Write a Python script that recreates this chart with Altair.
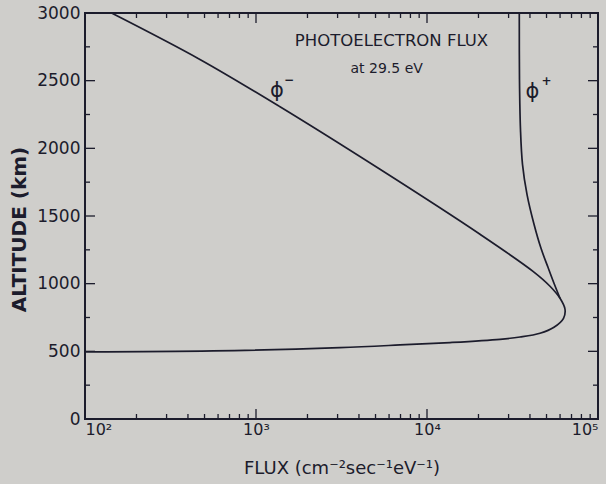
import altair as alt
import pandas as pd

# ---- data ----
# phi-minus curve (top-left, down to the nose, then back along the 500 km branch)
minus_flux = [143, 470, 1382, 5311, 20410, 41690, 52400, 59960, 64130,
              62850, 55290, 45800, 35000, 26720, 13630, 6950, 3100, 562, 100]
minus_alt = [3000, 2657, 2307, 1845, 1365, 1091, 981, 892, 811,
             744, 678, 634, 606, 589, 565, 547, 528, 503, 496]
# phi-plus curve (from the top right down to where it joins phi-minus)
plus_flux = [34650, 34740, 35210, 36180, 38440, 42250, 46420, 51000, 55290, 59960]
plus_alt = [3000, 2510, 2140, 1882, 1660, 1439, 1261, 1121, 1003, 892]

x_major = [100, 1000, 10000, 100000]
x_labels = ["10²", "10³", "10⁴", "10⁵"]
x_minor = [200, 300, 400, 500, 600, 700, 800, 900,
           2000, 3000, 4000, 5000, 6000, 7000, 8000, 9000,
           20000, 30000, 40000, 50000, 60000, 70000, 80000, 90000]
y_major = [0, 500, 1000, 1500, 2000, 2500, 3000]
y_minor = [250, 750, 1250, 1750, 2250, 2750]

W, H = 513, 406
INK = "#1c1c2c"
BG = "#cfcecb"

rows = []
for i, (f, a) in enumerate(zip(minus_flux, minus_alt)):
    rows.append({"flux": f, "alt": a, "series": "minus", "idx": i})
for i, (f, a) in enumerate(zip(plus_flux, plus_alt)):
    rows.append({"flux": f, "alt": a, "series": "plus", "idx": i})
curves = pd.DataFrame(rows)

xscale = alt.Scale(type="log", domain=[100, 100000], nice=False)
yscale = alt.Scale(domain=[0, 3000], nice=False, zero=False)

label_expr = " : ".join(
    f"datum.value == {v} ? '{l}'" for v, l in zip(x_major[:-1], x_labels[:-1])
) + f" : '{x_labels[-1]}'"

xaxis = alt.Axis(values=x_major, labelExpr=label_expr, grid=False,
                 ticks=False, tickSize=0, domain=False,
                 labelFont="DejaVu Sans", labelFontSize=16,
                 labelColor=INK, labelPadding=2,
                 title="FLUX (cm⁻²sec⁻¹eV⁻¹)", titleFont="DejaVu Sans",
                 titleFontSize=18, titleFontWeight="normal",
                 titleColor=INK, titleX=W / 2, titleY=49,
                 titleAlign="center", titleBaseline="middle")
yaxis = alt.Axis(values=y_major, format="d", grid=False, ticks=False, tickSize=0,
                 domain=False, labelFont="DejaVu Sans", labelFontSize=17,
                 labelColor=INK, labelPadding=5,
                 title="ALTITUDE (km)", titleFont="DejaVu Sans",
                 titleFontSize=20, titleFontWeight="bold",
                 titleColor=INK, titleAngle=270, titleX=-66,
                 titleY=216, titleAlign="center",
                 titleBaseline="middle")


def X(field):
    return alt.X(field, scale=xscale, axis=xaxis)


def Y(field):
    return alt.Y(field, scale=yscale, axis=yaxis)


lines = alt.Chart(curves).mark_line(
    color=INK, strokeWidth=1.7, interpolate="catmull-rom"
).encode(
    x=X("flux:Q"),
    y=Y("alt:Q"),
    detail="series:N",
    order="idx:Q",
)


def xticks(vals, length):
    df = pd.DataFrame({"v": vals})
    base = alt.Chart(df).mark_rule(color=INK, strokeWidth=1.3)
    bottom = base.encode(x=X("v:Q"), y=alt.value(H), y2=alt.value(H - length))
    top = base.encode(x=X("v:Q"), y=alt.value(0), y2=alt.value(length))
    return [bottom, top]


def yticks(vals, length):
    df = pd.DataFrame({"v": vals})
    base = alt.Chart(df).mark_rule(color=INK, strokeWidth=1.3)
    left = base.encode(y=Y("v:Q"), x=alt.value(0), x2=alt.value(length))
    right = base.encode(y=Y("v:Q"), x=alt.value(W), x2=alt.value(W - length))
    return [left, right]


# annotations
ann_text = ["PHOTOELECTRON FLUX", "at 29.5 eV"]
ann_flux = [6200, 5810]
ann_alt = [2792, 2583]
ann_size = [16.5, 14]
ann = alt.Chart(pd.DataFrame({"t": ann_text, "f": ann_flux, "a": ann_alt, "s": ann_size})).mark_text(
    font="DejaVu Sans", color=INK, align="center", baseline="middle"
).encode(
    x=X("f:Q"),
    y=Y("a:Q"),
    text="t:N",
    size=alt.Size("s:Q", scale=None, legend=None),
)

phi_text = ["ϕ", "ϕ"]
phi_flux = [1327, 41400]
phi_alt = [2425, 2414]
phi = alt.Chart(pd.DataFrame({"t": phi_text, "f": phi_flux, "a": phi_alt})).mark_text(
    font="DejaVu Sans", fontSize=21, color=INK, align="center", baseline="middle"
).encode(
    x=X("f:Q"),
    y=Y("a:Q"),
    text="t:N",
)

sup_text = ["−", "+"]
sup_flux = [1560, 50000]
sup_alt = [2505, 2500]
sup = alt.Chart(pd.DataFrame({"t": sup_text, "f": sup_flux, "a": sup_alt})).mark_text(
    font="DejaVu Sans", fontSize=12, fontWeight="bold", color=INK,
    align="center", baseline="middle"
).encode(
    x=X("f:Q"),
    y=Y("a:Q"),
    text="t:N",
)

layers = [lines] + xticks(x_major, 10) + xticks(x_minor, 5) + yticks(y_major, 10) + yticks(y_minor, 5) + [ann, phi, sup]

chart = alt.layer(*layers).properties(
    width=W, height=H,
    background=BG,
    autosize=alt.AutoSizeParams(type="none"),
    padding={"left": 85, "top": 13, "right": 8, "bottom": 65},
).configure_view(
    stroke=INK, strokeWidth=2
)

chart.save("out.html", embed_options={"renderer": "svg", "actions": False})
